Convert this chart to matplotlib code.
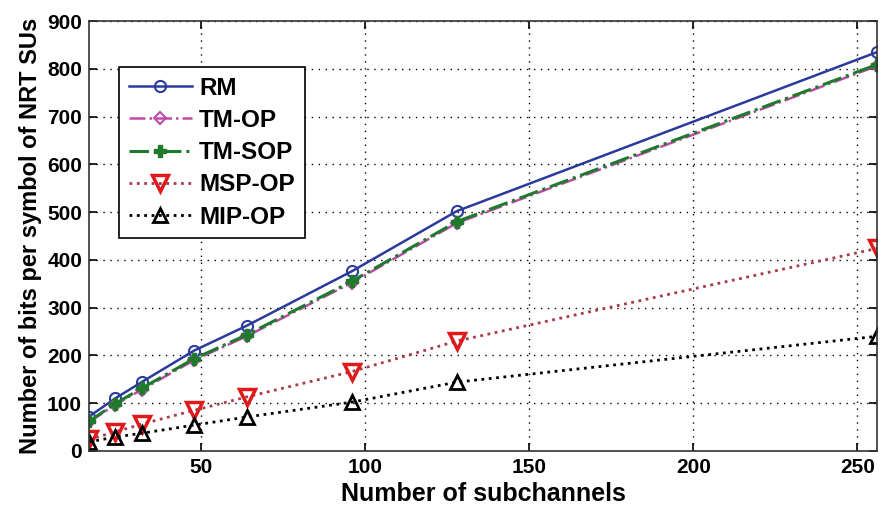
import matplotlib
matplotlib.use("Agg")
import matplotlib.pyplot as plt

x = [16, 24, 32, 48, 64, 96, 128, 256]
rm = [72, 110, 144, 210, 262, 376, 502, 835]
tm_op = [60, 97, 128, 190, 240, 352, 477, 806]
tm_sop = [62, 99, 131, 193, 243, 355, 480, 809]
msp_op = [24, 40, 56, 85, 113, 166, 230, 424]
mip_op = [19, 29, 37, 54, 71, 102, 144, 240]
labels = ["RM", "TM-OP", "TM-SOP", "MSP-OP", "MIP-OP"]

plt.rcParams['font.family'] = ['Liberation Sans', 'DejaVu Sans']
fig = plt.figure(figsize=(8.83, 5.13), dpi=100)
ax = fig.add_axes([0.1008, 0.121, 0.8925, 0.838])

ax.plot(x, rm, '-', color='#2b3b9c', lw=1.8, marker='o', ms=8, mfc='none', mec='#2b3b9c', mew=1.5, label=labels[0])
ax.plot(x, tm_op, '-.', color='#c04aa8', lw=1.8, marker='D', ms=6, mfc='none', mec='#c04aa8', mew=1.5, label=labels[1])
ax.plot(x, tm_sop, '-.', color='#1f7a2e', lw=2.2, marker='P', ms=8, mfc='#1f7a2e', mec='#1f7a2e', mew=1, label=labels[2])
ax.plot(x, msp_op, ':', color='#a83a4a', lw=2.0, marker='v', ms=11, mfc='none', mec='#e01a1a', mew=2.5, label=labels[3])
ax.plot(x, mip_op, ':', color='black', lw=2.0, marker='^', ms=10, mfc='none', mec='black', mew=2.0, label=labels[4])

ax.set_xlim(16, 256)
ax.set_ylim(0, 900)
ax.set_xticks([50, 100, 150, 200, 250])
ax.set_yticks(range(0, 901, 100))
ax.grid(True, color='black', linestyle=(0, (1, 4)), lw=1.0)
ax.tick_params(direction='in', top=True, right=True, length=6, width=1.2, labelsize=15, pad=5)
for lab in ax.get_xticklabels() + ax.get_yticklabels():
    lab.set_fontweight('bold')
for s in ax.spines.values():
    s.set_linewidth(1.2)
    s.set_color('#333333')

ax.set_xlabel('Number of subchannels', fontsize=18, fontweight='bold', labelpad=4)
ax.set_ylabel('Number of bits per symbol of NRT SUs', fontsize=17, fontweight='bold', labelpad=4)

leg = ax.legend(loc='upper left', bbox_to_anchor=(0.038, 0.893), fancybox=False, framealpha=1,
                edgecolor='black', prop={'weight': 'bold', 'size': 17.5}, handlelength=2.6,
                borderpad=0.4, labelspacing=0.38, handletextpad=0.3, borderaxespad=0)
leg.get_frame().set_linewidth(1.2)

fig.savefig('out.png', dpi=100)
